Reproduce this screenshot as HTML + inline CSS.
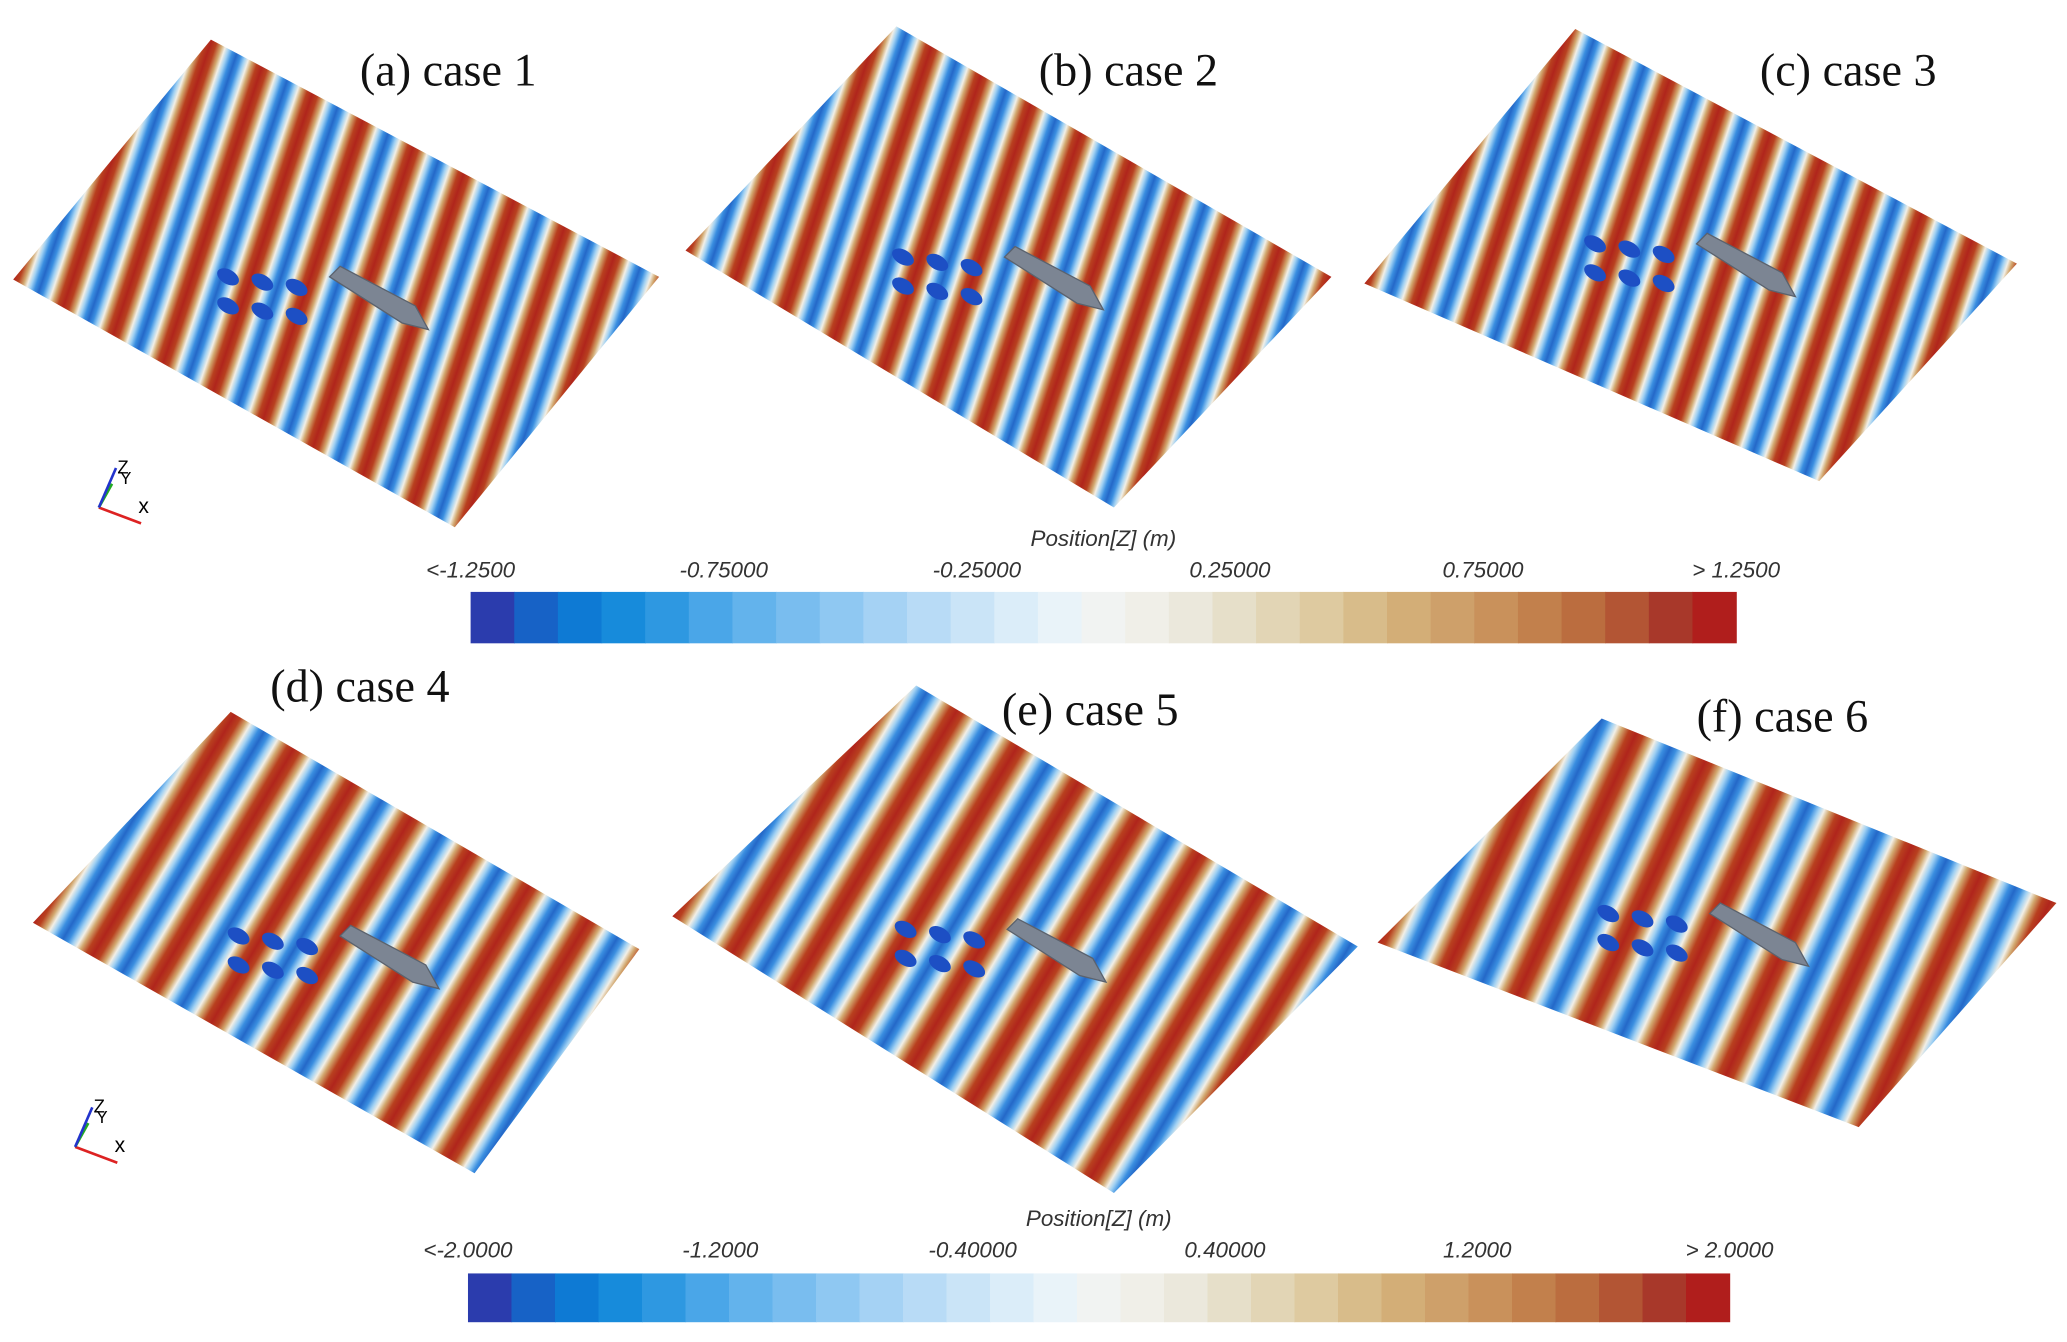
<!DOCTYPE html>
<html><head><meta charset="utf-8"><style>
html,body{margin:0;padding:0;background:#fff;width:2067px;height:1342px;overflow:hidden}
svg{display:block}
.t{font-family:"Liberation Serif",serif;font-size:35px;fill:#111}
.cb{font-family:"Liberation Sans",sans-serif;font-style:italic;font-size:17px;fill:#333}
</style></head><body>
<svg id="fig" width="2067" height="1342" viewBox="0 0 1568 1018" xmlns="http://www.w3.org/2000/svg">
<defs id="defs"></defs>
<g id="panels"></g>
<g id="bars"></g>
</svg>
<script>
const panelLabels=["(a) case 1","(b) case 2","(c) case 3","(d) case 4","(e) case 5","(f) case 6"];
const cb1Ticks=["<-1.2500","-0.75000","-0.25000","0.25000","0.75000","> 1.2500"];
const cb2Ticks=["<-2.0000","-1.2000","-0.40000","0.40000","1.2000","> 2.0000"];
const cbColors=["#2b3cad","#1762c6","#0e7ad4","#178bdb","#2e98e1","#4aa6e8","#63b3ec","#79bdef","#8fc8f2","#a5d2f4","#b8dbf6","#cae4f7","#dbedf9","#e9f3f9","#f1f3f2","#f0efe8","#ebe8dc","#e6dfc9","#e2d5b5","#decaa0","#d8bc8a","#d3ae77","#cea06a","#c9915b","#c2804c","#bb6d3f","#b35534","#a8382a","#b01e1c"];
const NS="http://www.w3.org/2000/svg";
const P=document.getElementById('panels'), B=document.getElementById('bars'), D=document.getElementById('defs');
function mk(t,a,parent){const e=document.createElementNS(NS,t);for(const k in a)e.setAttribute(k,a[k]);parent.appendChild(e);return e;}
const quads=[
 [[160,30],[500,210],[345,400],[10,212]],
 [[680,20],[1010,210],[845,385],[520,190]],
 [[1195,22],[1530,200],[1380,365],[1035,215]],
 [[175,540],[485,720],[360,890],[25,700]],
 [[695,520],[1030,718],[845,905],[510,695]],
 [[1215,545],[1560,685],[1410,855],[1045,715]]];
const hPeriod=[45,45,45,60,62,62];
const stripeDir=[[-1,3],[-1,3],[-1,3],[-1,1.7],[-1,1.7],[-1,2.2]];
const stops=[[0,"#b0251c"],[0.1,"#b8401f"],[0.2,"#d2a86f"],[0.27,"#f2efe6"],[0.34,"#9fd0f3"],[0.42,"#3a8ee0"],[0.5,"#2468c8"],[0.58,"#3a8ee0"],[0.66,"#9fd0f3"],[0.73,"#f2efe6"],[0.8,"#d2a86f"],[0.9,"#b8401f"],[1,"#b0251c"]];
const titlePos=[[273,65],[788,65],[1335,65],[205,532],[760,550],[1287,555]];
const ships=[[250,210],[762,195],[1287,185],[258,710],[764,705],[1297,693]];
quads.forEach((q,i)=>{
  const L=q[3];
  const d=stripeDir[i];const n=Math.hypot(d[0],d[1]);
  const nx=d[1]/n, ny=-d[0]/n;
  const per=hPeriod[i]*nx;
  const gr=mk('linearGradient',{id:'g'+i,gradientUnits:'userSpaceOnUse',x1:L[0],y1:L[1],x2:L[0]+nx*per,y2:L[1]+ny*per,spreadMethod:'repeat'},D);
  stops.forEach(s=>mk('stop',{offset:s[0],'stop-color':s[1]},gr));
  const g=mk('g',{},P);
  
  
  mk('polygon',{points:q.map(p=>p.join(',')).join(' '),fill:'url(#g'+i+')'},g);
  const s=ships[i];
  for(let k=0;k<6;k++){
    const cx=s[0]-25-Math.floor(k/2)*26, cy=s[1]+(k%2?30:8)-Math.floor(k/2)*4;
    const b=mk('ellipse',{cx:cx,cy:cy,rx:9,ry:5.5,fill:'#1d4fc4',transform:`rotate(30 ${cx} ${cy})`},g);
    
    
  }
  const sh=mk('polygon',{points:`${s[0]},${s[1]} ${s[0]+8},${s[1]-8} ${s[0]+65},${s[1]+22} ${s[0]+75},${s[1]+40} ${s[0]+55},${s[1]+35}`,fill:'#7c8593',stroke:'#5b626d','stroke-width':1},g);
  
  
  const t=mk('text',{x:titlePos[i][0],y:titlePos[i][1],class:'t'},g);
  t.textContent=panelLabels[i];
  
  
});
[[75,385],[57,870]].forEach(p=>{
  const g=mk('g',{},P);
  
  
  mk('line',{x1:p[0],y1:p[1],x2:p[0]+32,y2:p[1]+12,stroke:'#d22',"stroke-width":2},g);
  mk('line',{x1:p[0],y1:p[1],x2:p[0]+10,y2:p[1]-18,stroke:'#2a2',"stroke-width":2},g);
  mk('line',{x1:p[0],y1:p[1],x2:p[0]+13,y2:p[1]-30,stroke:'#23c',"stroke-width":2},g);
  const x=mk('text',{x:p[0]+30,y:p[1]+4,'font-family':'Liberation Sans','font-size':16},g);x.textContent='x';
  const z=mk('text',{x:p[0]+14,y:p[1]-26,'font-family':'Liberation Sans','font-size':14},g);z.textContent='Z';
  const y=mk('text',{x:p[0]+16,y:p[1]-18,'font-family':'Liberation Sans','font-size':13},g);y.textContent='Y';
});
function colorbar(x0,x1,y0,y1,ticks,ty,titleY,name){
  const g=mk('g',{},B);
  
  
  const w=(x1-x0)/cbColors.length;
  cbColors.forEach((c,i)=>{
    const r=mk('rect',{x:x0+i*w,y:y0,width:w+0.5,height:y1-y0,fill:c},g);
    
    
  });
  ticks.forEach((t,i)=>{
    const tx=x0+i*(x1-x0)/(ticks.length-1);
    const e=mk('text',{x:tx,y:ty,class:'cb','text-anchor':'middle'},g);
    e.textContent=t;
    
    
  });
  const tt=mk('text',{x:(x0+x1)/2,y:titleY,class:'cb','text-anchor':'middle'},g);
  tt.textContent='Position[Z] (m)';
  
  
}
colorbar(357,1317,449,488,cb1Ticks,438,414,'colorbar-top');
colorbar(355,1312,966,1003,cb2Ticks,954,930,'colorbar-bottom');
</script>
</body></html>
